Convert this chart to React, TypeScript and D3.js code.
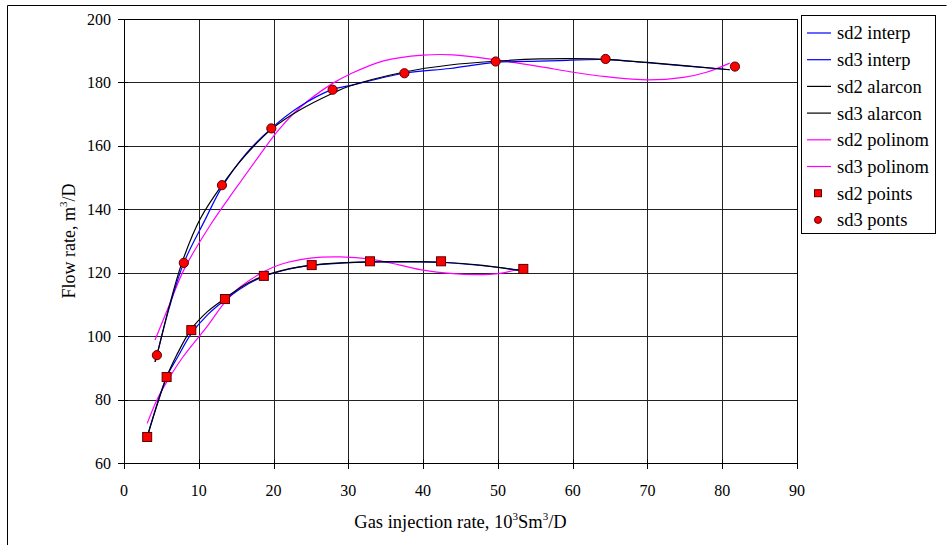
import React, { useEffect, useRef } from 'react';
import * as d3 from 'd3';

type Pt = [number, number];

const xTicks = [0, 10, 20, 30, 40, 50, 60, 70, 80, 90];
const yTicks = [60, 80, 100, 120, 140, 160, 180, 200];

// measured points
const sd2Points: Pt[] = [
  [3.1, 68.2], [5.7, 87.1], [9.0, 101.9], [13.5, 111.7], [18.7, 119.0],
  [25.1, 122.4], [32.9, 123.6], [42.4, 123.6], [53.4, 121.2],
];
const sd3Points: Pt[] = [
  [4.4, 94.0], [8.0, 123.1], [13.1, 147.6], [19.7, 165.5], [27.9, 177.7],
  [37.5, 182.9], [49.7, 186.6], [64.4, 187.4], [81.7, 185.0],
];

// fitted curves
const sd2Interp: Pt[] = [
  [3.1, 68.2], [5.7, 87.1], [7.2, 93.5], [9.0, 100.8], [11.2, 106.8], [13.5, 111.4],
  [16, 115.6], [18.7, 118.8], [22, 121.1], [25.1, 122.3], [29, 123.0], [32.9, 123.4],
  [38, 123.4], [42.4, 123.3], [48, 122.2], [53.4, 120.7],
];
const sd2Alarcon: Pt[] = [
  [3.1, 68.2], [5.7, 87.1], [7.0, 93.8], [9.0, 102.2], [11.2, 107.8], [13.5, 111.9],
  [16, 116.0], [18.7, 119.0], [22, 121.2], [25.1, 122.4], [29, 123.1], [32.9, 123.4],
  [38, 123.5], [42.4, 123.3], [48, 122.3], [53.4, 120.5],
];
const sd2Polinom: Pt[] = [
  [3.1, 72.5], [4.4, 79.9], [5.7, 85.5], [7.9, 93.5], [11.1, 103.0], [13.4, 110.4],
  [15.5, 115.4], [18.6, 120.2], [20.9, 122.6], [24.9, 124.6], [28.9, 125.0], [33, 124.3],
  [36.9, 122.4], [40, 120.8], [44, 119.7], [47, 119.4], [50.3, 119.8], [53.2, 121.4],
];
const sd3Interp: Pt[] = [
  [4.15, 91.9], [4.4, 94.0], [6, 108.5], [8.0, 123.1], [10.8, 136.5], [13.1, 147.0],
  [16.3, 157.5], [19.7, 165.5], [23.5, 172.4], [27.9, 177.8], [30, 178.9], [37.5, 182.9],
  [43.6, 184.4], [49.7, 186.3], [55.6, 186.7], [58.3, 186.9], [64.4, 187.2], [70, 186.2],
  [81, 184.0],
];
const sd3Alarcon: Pt[] = [
  [4.15, 91.9], [4.4, 94.0], [6, 109.0], [7.8, 123.5], [10.2, 137.0], [13.1, 147.6],
  [16.2, 156.9], [19.7, 165.2], [23.5, 171.3], [27.9, 176.6], [30, 178.7], [37.5, 183.3],
  [43.6, 185.5], [49.7, 186.7], [55.6, 187.4], [60, 187.5], [64.4, 187.3], [70, 186.3],
  [81, 184.0],
];
const sd3Polinom: Pt[] = [
  [4.15, 98.8], [6, 109.5], [8.0, 120.9], [11.7, 135.6], [14.8, 146.1], [18, 156.6],
  [20.6, 164.8], [23.5, 172.0], [27.9, 179.7], [30.2, 182.6], [34.7, 186.8], [40, 188.6],
  [44, 188.7], [49.7, 187.1], [55.6, 185.0], [60.1, 183.2], [64.5, 181.8], [70, 180.8],
  [74.8, 181.6], [77.9, 183.2], [81.0, 186.1],
];

const legendLabels = [
  'sd2 interp', 'sd3 interp', 'sd2 alarcon', 'sd3 alarcon',
  'sd2 polinom', 'sd3 polinom', 'sd2 points', 'sd3 ponts',
];

const BLUE = '#0000ff';
const BLACK = '#000000';
const MAGENTA = '#ff00ff';
const FONT = '"Liberation Serif", "Times New Roman", serif';

export default function App() {
  const root = useRef<SVGSVGElement>(null);

  useEffect(() => {
    const svg = d3.select(root.current);
    svg.selectAll('*').remove();

    const margin = { top: 19, left: 124 };
    const w = 673, h = 444;

    svg.style('font-family', FONT);

    // outer frame
    svg.append('path')
      .attr('d', 'M7.5,545 V5.5 H946.5')
      .attr('fill', 'none').attr('stroke', '#000').attr('stroke-width', 1);

    const g = svg.append('g').attr('transform', `translate(${margin.left}, ${margin.top})`);

    const x = d3.scaleLinear().domain([0, 90]).range([0, w]);
    const y = d3.scaleLinear().domain([60, 200]).range([h, 0]);

    // grid
    g.selectAll('.vgrid').data(xTicks.slice(1)).enter().append('line')
      .attr('x1', d => Math.round(x(d)) + 0.5).attr('x2', d => Math.round(x(d)) + 0.5)
      .attr('y1', 0).attr('y2', h)
      .attr('stroke', '#222').attr('stroke-width', 1);
    g.selectAll('.hgrid').data(yTicks.slice(1)).enter().append('line')
      .attr('y1', d => Math.round(y(d)) + 0.5).attr('y2', d => Math.round(y(d)) + 0.5)
      .attr('x1', 0).attr('x2', w)
      .attr('stroke', '#222').attr('stroke-width', 1);

    // axes
    g.append('line').attr('x1', 0.5).attr('x2', 0.5).attr('y1', 0).attr('y2', h + 5)
      .attr('stroke', '#000');
    g.append('line').attr('x1', -5).attr('x2', w).attr('y1', h + 0.5).attr('y2', h + 0.5)
      .attr('stroke', '#000');

    g.selectAll('.ytick').data(yTicks).enter().append('line')
      .attr('x1', -6).attr('x2', 4)
      .attr('y1', d => Math.round(y(d)) + 0.5).attr('y2', d => Math.round(y(d)) + 0.5)
      .attr('stroke', '#000');
    g.selectAll('.xtick').data(xTicks).enter().append('line')
      .attr('x1', d => Math.round(x(d)) + 0.5).attr('x2', d => Math.round(x(d)) + 0.5)
      .attr('y1', h - 4).attr('y2', h + 6)
      .attr('stroke', '#000');

    g.selectAll('.ylab').data(yTicks).enter().append('text')
      .attr('x', -13).attr('y', d => y(d)).attr('dy', '0.35em')
      .attr('text-anchor', 'end')
      .style('font-size', '16px')
      .text(d => d);
    g.selectAll('.xlab').data(xTicks).enter().append('text')
      .attr('x', d => x(d)).attr('y', h + 27).attr('dy', '0.35em')
      .attr('text-anchor', 'middle')
      .style('font-size', '16px')
      .text(d => d);

    // axis titles
    const xt = g.append('text')
      .attr('x', w / 2).attr('y', h + 65)
      .attr('text-anchor', 'middle')
      .style('font-size', '18.5px');
    xt.append('tspan').text('Gas injection rate, 10');
    xt.append('tspan').attr('dy', -8).style('font-size', '11px').text('3');
    xt.append('tspan').attr('dy', 8).text('Sm');
    xt.append('tspan').attr('dy', -8).style('font-size', '11px').text('3');
    xt.append('tspan').attr('dy', 8).text('/D');

    const yt = g.append('text')
      .attr('transform', `translate(${-49}, ${h / 2}) rotate(-90)`)
      .attr('text-anchor', 'middle')
      .style('font-size', '18px');
    yt.append('tspan').text('Flow rate, m');
    yt.append('tspan').attr('dy', -8).style('font-size', '11px').text('3');
    yt.append('tspan').attr('dy', 8).text('/D');

    // plot frame (top and right)
    g.append('path').attr('d', `M0,0.5 H${w + 0.5} V${h}`)
      .attr('fill', 'none').attr('stroke', '#000');

    const line = d3.line<Pt>()
      .x(d => x(d[0]))
      .y(d => y(d[1]))
      .curve(d3.curveCatmullRom.alpha(0.5));

    const curves: [Pt[], string][] = [
      [sd2Polinom, MAGENTA], [sd3Polinom, MAGENTA],
      [sd2Interp, BLUE], [sd3Interp, BLUE],
      [sd2Alarcon, BLACK], [sd3Alarcon, BLACK],
    ];
    curves.forEach(([data, colour]) => {
      g.append('path')
        .attr('d', line(data))
        .attr('fill', 'none')
        .attr('stroke', colour)
        .attr('stroke-width', 1.2);
    });

    g.selectAll('.sq').data(sd2Points).enter().append('rect')
      .attr('x', d => x(d[0]) - 4.5).attr('y', d => y(d[1]) - 4.5)
      .attr('width', 9).attr('height', 9)
      .attr('fill', '#ff0000').attr('stroke', '#5a0000').attr('stroke-width', 1);
    g.selectAll('.ci').data(sd3Points).enter().append('circle')
      .attr('cx', d => x(d[0])).attr('cy', d => y(d[1])).attr('r', 4.6)
      .attr('fill', '#ff0000').attr('stroke', '#5a0000').attr('stroke-width', 1);

    // legend
    const lg = svg.append('g');
    lg.append('rect')
      .attr('x', 801.5).attr('y', 15.5).attr('width', 134).attr('height', 218)
      .attr('fill', '#fff').attr('stroke', '#000');
    const colours = [BLUE, BLUE, BLACK, BLACK, MAGENTA, MAGENTA];
    legendLabels.forEach((label, i) => {
      const cy = 33 + i * 26.7;
      if (i < 6) {
        lg.append('line').attr('x1', 807).attr('x2', 831).attr('y1', cy).attr('y2', cy)
          .attr('stroke', colours[i]).attr('stroke-width', 1.2);
      } else if (i === 6) {
        lg.append('rect').attr('x', 814.5).attr('y', cy - 3.5).attr('width', 7).attr('height', 7)
          .attr('fill', '#ff0000').attr('stroke', '#5a0000');
      } else {
        lg.append('circle').attr('cx', 818).attr('cy', cy).attr('r', 3.5)
          .attr('fill', '#ff0000').attr('stroke', '#5a0000');
      }
      lg.append('text')
        .attr('x', 837).attr('y', cy).attr('dy', '0.35em')
        .style('font-size', '18.5px')
        .text(label);
    });
  }, []);

  return (
    <svg
      ref={root}
      width={949}
      height={545}
      style={{ position: 'absolute', left: 0, top: 0, background: '#fff' }}
    />
  );
}
